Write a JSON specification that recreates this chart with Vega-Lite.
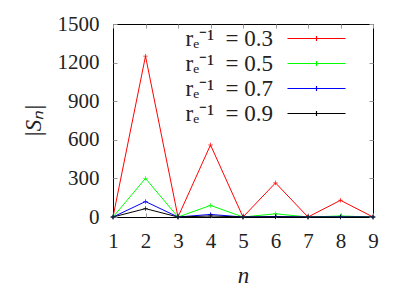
{
  "$schema": "https://vega.github.io/schema/vega-lite/v6.json",
  "width": 260,
  "height": 193,
  "autosize": "none",
  "padding": {"left": 113, "top": 24, "right": 42, "bottom": 75},
  "background": "white",
  "config": {
    "view": {"stroke": "black", "strokeWidth": 1},
    "font": "Liberation Serif",
    "axis": {"grid": false, "domain": false, "labelFont": "Liberation Serif", "titleFont": "Liberation Serif", "labelColor": "#222", "titleColor": "#222", "tickColor": "#999", "tickSize": -4, "labelFontSize": 21, "titleFontSize": 23, "titleFontWeight": "normal", "format": "d"}
  },
  "data": {
    "values": [
      {"n": 1, "S": 0, "r": "0.3"}, {"n": 2, "S": 1250, "r": "0.3"}, {"n": 3, "S": 0, "r": "0.3"}, {"n": 4, "S": 560, "r": "0.3"}, {"n": 5, "S": 0, "r": "0.3"}, {"n": 6, "S": 265, "r": "0.3"}, {"n": 7, "S": 0, "r": "0.3"}, {"n": 8, "S": 130, "r": "0.3"}, {"n": 9, "S": 0, "r": "0.3"},
      {"n": 1, "S": 0, "r": "0.5"}, {"n": 2, "S": 300, "r": "0.5"}, {"n": 3, "S": 0, "r": "0.5"}, {"n": 4, "S": 90, "r": "0.5"}, {"n": 5, "S": 0, "r": "0.5"}, {"n": 6, "S": 25, "r": "0.5"}, {"n": 7, "S": 0, "r": "0.5"}, {"n": 8, "S": 8, "r": "0.5"}, {"n": 9, "S": 0, "r": "0.5"},
      {"n": 1, "S": 0, "r": "0.7"}, {"n": 2, "S": 120, "r": "0.7"}, {"n": 3, "S": 0, "r": "0.7"}, {"n": 4, "S": 20, "r": "0.7"}, {"n": 5, "S": 0, "r": "0.7"}, {"n": 6, "S": 4, "r": "0.7"}, {"n": 7, "S": 0, "r": "0.7"}, {"n": 8, "S": 1, "r": "0.7"}, {"n": 9, "S": 0, "r": "0.7"},
      {"n": 1, "S": 0, "r": "0.9"}, {"n": 2, "S": 65, "r": "0.9"}, {"n": 3, "S": 0, "r": "0.9"}, {"n": 4, "S": 8, "r": "0.9"}, {"n": 5, "S": 0, "r": "0.9"}, {"n": 6, "S": 1, "r": "0.9"}, {"n": 7, "S": 0, "r": "0.9"}, {"n": 8, "S": 0, "r": "0.9"}, {"n": 9, "S": 0, "r": "0.9"}
    ]
  },
  "layer": [
    {
      "mark": {"type": "line", "strokeWidth": 1, "clip": true},
      "encoding": {
        "x": {"field": "n", "type": "quantitative", "scale": {"domain": [1, 9], "nice": false, "zero": false},
          "axis": {"values": [1, 2, 3, 4, 5, 6, 7, 8, 9], "title": "n", "titleFontStyle": "italic", "labelPadding": 17, "titlePadding": 13, "labelFlush": false}},
        "y": {"field": "S", "type": "quantitative", "scale": {"domain": [0, 1500], "nice": false},
          "axis": {"values": [0, 300, 600, 900, 1200, 1500], "title": "|Sₙ|", "titleFontStyle": "italic", "labelPadding": 18, "titlePadding": 12, "labelFlush": false}},
        "color": {"field": "r", "type": "nominal", "sort": ["0.3", "0.5", "0.7", "0.9"],
          "scale": {"domain": ["0.3", "0.5", "0.7", "0.9"], "range": ["#ff0000", "#00ff00", "#0000ff", "#000000"]},
          "legend": {"title": null, "orient": "none", "legendX": 192, "legendY": 3, "symbolType": "M-2.9,0L2.9,0M0,-0.25L0,0.25", "symbolSize": 400, "symbolStrokeWidth": 1.2, "symbolFillColor": "transparent", "labelAlign": "right", "labelOffset": -55, "labelFontSize": 23, "labelFont": "Liberation Serif", "labelColor": "#222", "labelExpr": "'rₑ⁻¹\u2002= ' + datum.label", "rowPadding": 1, "padding": 0}}
      }
    },
    {
      "mark": {"type": "point", "shape": "M-1,0L1,0M0,-1L0,1", "size": 20, "filled": false, "strokeWidth": 1},
      "encoding": {
        "x": {"field": "n", "type": "quantitative", "axis": {"orient": "top", "values": [1, 2, 3, 4, 5, 6, 7, 8, 9], "labels": false, "title": null}},
        "y": {"field": "S", "type": "quantitative", "axis": {"orient": "right", "values": [0, 300, 600, 900, 1200, 1500], "labels": false, "title": null}},
        "stroke": {"field": "r", "type": "nominal", "scale": {"domain": ["0.3", "0.5", "0.7", "0.9"], "range": ["#ff0000", "#00ff00", "#0000ff", "#000000"]}, "legend": null}
      }
    }
  ],
  "resolve": {"axis": {"x": "independent", "y": "independent"}}
}
